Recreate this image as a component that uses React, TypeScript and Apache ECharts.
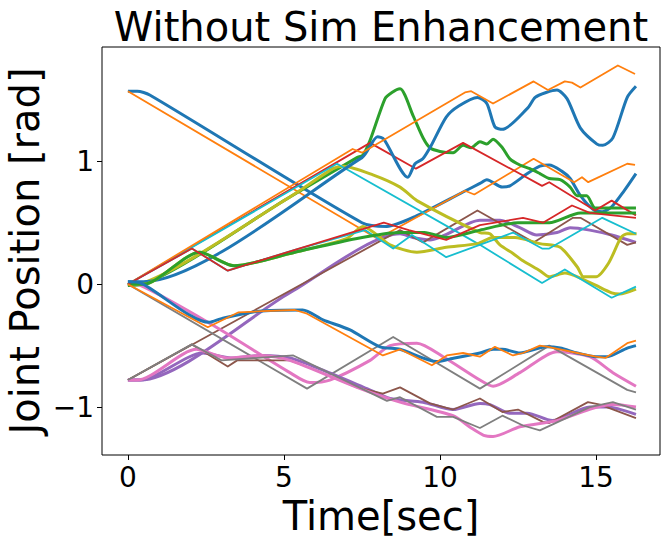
import React, { useEffect, useRef } from "react";
import * as echarts from "echarts";

// tab10 colours
const BLUE = "#1f77b4", ORANGE = "#ff7f0e", GREEN = "#2ca02c", RED = "#d62728", PURPLE = "#9467bd";
const BROWN = "#8c564b", PINK = "#e377c2", GRAY = "#7f7f7f", OLIVE = "#bcbd22", CYAN = "#17becf";

const xTicks = [0, 5, 10, 15];
const yTicks = [-1, 0, 1];

// [time (s), joint position (rad)] — actual (thick) and target (thin) per joint
const j1Actual = [[0,1.57],[0.3,1.57],[0.7,1.54],[7.5,0.50],[8.3,0.47],[9.2,0.55],[10.74,0.75],[11.28,0.82],[11.5,0.85],[12.0,0.79],[12.24,0.80],[12.8,0.90],[13.2,0.96],[13.5,0.97],[13.9,0.92],[14.17,0.86],[14.5,0.72],[14.9,0.61],[15.2,0.59],[15.5,0.63],[15.9,0.76],[16.28,0.90]];
const j1Target = [[0,1.57],[8.0,0.37],[10.8,0.76],[11.1,0.73],[13.0,1.02],[14.3,0.83],[14.55,0.87],[14.75,0.83],[16.0,0.98],[16.25,0.97]];
const j2Actual = [[0,-0.01],[0.5,0.0],[5.19,0.71],[7.34,1.03],[7.53,1.05],[7.76,1.17],[8.24,1.51],[8.46,1.56],[8.72,1.59],[9.14,1.37],[9.46,1.19],[9.68,1.11],[10.0,1.08],[10.42,1.07],[10.74,1.13],[11.0,1.11],[11.28,1.16],[11.5,1.14],[11.7,1.18],[12.0,1.11],[12.24,1.02],[12.56,0.97],[12.88,0.94],[13.2,0.90],[13.5,0.86],[13.85,0.85],[14.17,0.79],[14.4,0.72],[14.7,0.72],[14.97,0.62],[15.5,0.62],[16.28,0.62]];
const j2Target = [[0,0],[7.76,1.15],[9.23,0.94],[10.74,1.15],[13.27,0.80],[13.5,0.83],[14.97,0.60],[15.5,0.68],[16.28,0.56]];
const j3Actual = [[0,-0.78],[0.4,-0.78],[5.19,-0.07],[8.72,0.41],[9.13,0.38],[9.68,0.36],[11.28,0.52],[11.92,0.52],[12.56,0.46],[13.1,0.40],[13.75,0.42],[14.17,0.46],[14.8,0.44],[15.5,0.40],[16.28,0.34]];
const j3Target = [[0,-0.78],[8.72,0.44],[9.46,0.34],[11.2,0.60],[13.0,0.34],[14.26,0.54],[14.5,0.54],[16.0,0.32],[16.28,0.34]];
const j4Actual = [[0,0],[0.4,-0.01],[2.7,-0.33],[5.19,-0.72],[5.83,-0.80],[6.47,-0.78],[7.76,-0.62],[8.4,-0.50],[9.26,-0.48],[10.1,-0.59],[11.28,-0.78],[11.7,-0.83],[12.56,-0.72],[13.75,-0.55],[14.8,-0.59],[15.54,-0.72],[16.28,-0.83]];
const j4Target = [[0,0],[5.74,-0.85],[8.5,-0.43],[11.28,-0.85],[13.5,-0.50],[16.0,-0.86],[16.28,-0.88]];
const j5Actual = [[0,0],[0.5,0.01],[5.19,0.71],[6.57,0.94],[6.9,0.96],[7.85,0.89],[8.72,0.79],[9.26,0.68],[11.28,0.42],[11.6,0.41],[11.92,0.32],[12.34,0.25],[12.66,0.19],[13.2,0.11],[13.5,0.06],[14.0,0.09],[14.5,0.05],[15.0,-0.01],[15.5,-0.07],[15.75,-0.08],[16.28,-0.04]];
const j5Target = [[0,0],[6.7,0.98],[11.28,0.32],[13.27,0.01],[14.0,0.12],[15.5,-0.11],[16.28,-0.02]];
const j6Actual = [[0,0.02],[0.5,0.02],[7.5,1.03],[8.0,1.20],[8.2,1.18],[8.97,0.87],[9.2,0.98],[9.45,1.02],[9.7,1.12],[10.2,1.36],[10.6,1.45],[11.2,1.52],[11.5,1.47],[11.76,1.28],[12.0,1.26],[12.8,1.43],[13.05,1.52],[13.4,1.56],[13.75,1.58],[14.07,1.51],[14.5,1.27],[15.03,1.14],[15.22,1.13],[15.54,1.19],[16.0,1.52],[16.28,1.61]];
const j6Target = [[0,0],[7.2,1.10],[7.5,1.07],[10.8,1.56],[11.0,1.57],[11.7,1.47],[13.0,1.65],[13.46,1.58],[14.0,1.65],[14.23,1.64],[14.5,1.60],[15.7,1.78],[16.25,1.71]];
const j7Actual = [[0,0],[0.5,0.0],[2.3,0.26],[3.4,0.15],[5.35,0.26],[7.3,0.37],[8.7,0.42],[9.5,0.42],[10.2,0.38],[11.28,0.44],[12.5,0.50],[13.5,0.50],[14.5,0.58],[16.28,0.58]];
const j7Target = [[0,0],[2.05,0.29],[3.2,0.11],[5.35,0.28],[8.2,0.50],[9.0,0.44],[10.2,0.36],[11.28,0.48],[12.66,0.54],[13.3,0.50],[14.23,0.64],[14.8,0.58],[16.28,0.54]];
const j8Actual = [[0,-0.78],[0.4,-0.78],[2.4,-0.56],[3.3,-0.60],[4.3,-0.58],[5.19,-0.60],[6.25,-0.70],[7.66,-0.85],[8.4,-0.93],[9.46,-0.96],[10.42,-1.02],[11.28,-0.97],[11.6,-0.98],[12.24,-1.05],[12.8,-1.05],[13.6,-1.11],[14.8,-1.0],[15.35,-1.0],[16.28,-1.06]];
const j8Target = [[0,-0.78],[2.05,-0.49],[3.2,-0.67],[3.5,-0.62],[5.19,-0.62],[5.83,-0.68],[7.34,-0.84],[8.17,-0.89],[8.72,-0.84],[9.68,-0.97],[10.42,-1.02],[11.28,-0.93],[12.0,-1.04],[12.5,-1.02],[13.3,-1.12],[13.5,-1.13],[14.74,-0.96],[15.13,-0.98],[16.28,-1.09]];
const j9Actual = [[0,-0.78],[0.3,-0.78],[2.2,-0.53],[2.5,-0.55],[3.2,-0.60],[4.3,-0.58],[5.19,-0.62],[7.34,-0.84],[8.72,-0.96],[10.42,-1.07],[11.0,-1.17],[11.4,-1.23],[11.7,-1.24],[12.56,-1.16],[13.75,-1.11],[14.9,-1.01],[15.54,-0.98],[16.28,-1.0]];
const j9Target = [[0,-0.78],[2.05,-0.49],[3.0,-0.62],[5.3,-0.58],[8.3,-0.95],[8.72,-0.92],[9.9,-1.08],[10.42,-1.08],[11.28,-1.17],[12.0,-1.07],[12.66,-1.15],[13.2,-1.19],[14.8,-1.0],[15.54,-0.96],[16.28,-1.02]];
const j10Actual = [[0,0],[0.5,0.0],[2.3,0.26],[3.4,0.15],[5.35,0.26],[7.0,0.37],[7.53,0.47],[8.4,0.32],[9.26,0.26],[10.2,0.30],[11.2,0.33],[11.7,0.38],[12.4,0.38],[13.2,0.33],[13.85,0.30],[14.4,0.14],[14.6,0.06],[15.0,0.06],[15.4,0.17],[15.8,0.38],[16.0,0.41],[16.3,0.41]];
const j10Target = [[0,0],[2.05,0.29],[3.2,0.11],[5.35,0.28],[7.6,0.44],[8.5,0.29],[9.1,0.40],[10.2,0.22],[12.34,0.42],[13.27,0.29],[13.5,0.29],[15.2,0.54],[16.28,0.41]];
const j11Actual = [[0,0.02],[0.4,0.01],[2.6,-0.31],[3.0,-0.28],[4.2,-0.22],[5.6,-0.21],[6.25,-0.29],[7.1,-0.37],[8.08,-0.51],[8.72,-0.53],[9.9,-0.63],[10.3,-0.61],[11.28,-0.56],[11.7,-0.53],[12.0,-0.53],[12.56,-0.56],[13.4,-0.51],[13.85,-0.52],[14.4,-0.56],[15.0,-0.59],[15.35,-0.59],[16.0,-0.52],[16.28,-0.50]];
const j11Target = [[0,0],[2.56,-0.35],[3.53,-0.23],[4.3,-0.22],[5.35,-0.21],[5.74,-0.24],[8.17,-0.58],[8.72,-0.53],[9.74,-0.66],[10.22,-0.58],[10.74,-0.56],[11.28,-0.59],[11.76,-0.51],[12.0,-0.54],[12.34,-0.58],[12.66,-0.56],[13.2,-0.50],[13.46,-0.51],[13.85,-0.53],[14.4,-0.56],[15.0,-0.59],[15.3,-0.60],[15.54,-0.56],[16.0,-0.48],[16.28,-0.46]];

// drawing order (later = on top)
const LINES: [number[][], string, boolean][] = [
  [j1Actual, BLUE, true], [j1Target, ORANGE, false],
  [j2Actual, GREEN, true], [j2Target, RED, false],
  [j3Actual, PURPLE, true], [j3Target, BROWN, false],
  [j4Actual, PINK, true], [j4Target, GRAY, false],
  [j5Actual, OLIVE, true], [j5Target, CYAN, false],
  [j6Actual, BLUE, true], [j6Target, ORANGE, false],
  [j10Actual, OLIVE, true], [j10Target, CYAN, false],
  [j7Actual, GREEN, true], [j7Target, RED, false],
  [j8Actual, PURPLE, true], [j8Target, BROWN, false],
  [j9Actual, PINK, true], [j9Target, GRAY, false],
  [j11Actual, BLUE, true], [j11Target, ORANGE, false],
];

const FONT = "DejaVu Sans";
const fmt = (v: number) => (v < 0 ? "\u2212" + Math.abs(v) : String(v));

export default function App() {
  const ref = useRef<HTMLDivElement>(null);
  useEffect(() => {
    if (!ref.current) return;
    const chart = echarts.init(ref.current, undefined, { renderer: "svg" });
    chart.setOption({
      animation: false,
      backgroundColor: "#ffffff",
      grid: { left: 102, top: 47, width: 558, height: 408, show: true, borderColor: "#000", borderWidth: 1, backgroundColor: "transparent" },
      xAxis: {
        type: "value", min: -0.83, max: 17.05,
        axisLine: { show: false, onZero: false },
        axisTick: { show: true, customValues: xTicks, length: 5, inside: false, lineStyle: { color: "#000", width: 1 } },
        axisLabel: { customValues: xTicks, fontSize: 28, color: "#000", fontFamily: FONT, margin: 8 },
        splitLine: { show: false },
      },
      yAxis: {
        type: "value", min: -1.39, max: 1.93,
        axisLine: { show: false, onZero: false },
        axisTick: { show: true, customValues: yTicks, length: 5, inside: false, lineStyle: { color: "#000", width: 1 } },
        axisLabel: { customValues: yTicks, fontSize: 28, color: "#000", fontFamily: FONT, margin: 8, formatter: fmt },
        splitLine: { show: false },
      },
      graphic: [
        { type: "text", x: 381, y: 27, style: { text: "Without Sim Enhancement", fontSize: 40, fontFamily: FONT, fill: "#000", textAlign: "center", textVerticalAlign: "middle" } },
        { type: "text", x: 381, y: 516, style: { text: "Time[sec]", fontSize: 40, fontFamily: FONT, fill: "#000", textAlign: "center", textVerticalAlign: "middle" } },
        { type: "text", x: 25, y: 251, rotation: Math.PI / 2, style: { text: "Joint Position [rad]", fontSize: 40, fontFamily: FONT, fill: "#000", textAlign: "center", textVerticalAlign: "middle" } },
      ],
      series: LINES.map(([data, color, thick], i) => ({
        type: "line",
        name: "s" + i,
        data,
        showSymbol: false,
        smooth: thick ? 0.25 : false,
        clip: true,
        lineStyle: { color, width: thick ? 3 : 1.8, join: "round" },
        itemStyle: { color },
        z: 2,
      })),
    });
    return () => chart.dispose();
  }, []);
  return <div ref={ref} style={{ position: "absolute", left: 0, top: 0, width: 667, height: 542 }} />;
}
